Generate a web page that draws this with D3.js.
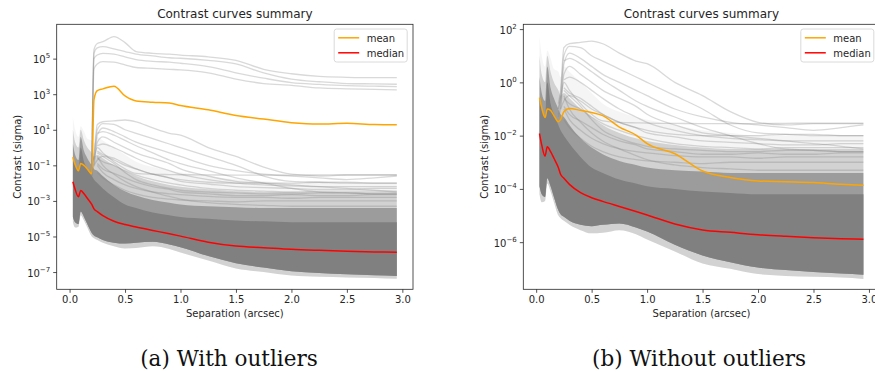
<!DOCTYPE html>
<html>
<head>
<meta charset="utf-8">
<script src="https://cdn.jsdelivr.net/npm/d3@7"></script>
<style>
  body { margin: 0; background: #fff; }
  svg text { font-family: "DejaVu Sans", sans-serif; fill: #262626; }
  svg text.caption { font-family: "DejaVu Serif", serif; fill: #111; }
</style>
</head>
<body>
<svg id="fig" width="875" height="372"></svg>
<script>
// separation grid (arcsec), shared by every curve below
const sep = [0.03, 0.05, 0.08, 0.1, 0.13, 0.16, 0.2, 0.22, 0.25, 0.3, 0.4, 0.5,
             0.6, 0.75, 0.9, 1.0, 1.25, 1.5, 1.75, 2.0, 2.25, 2.5, 2.75, 2.95];

// all values below are log10(contrast)
const medianLog = [-1.92, -2.35, -2.77, -2.42, -2.6, -2.85, -3.2, -3.45, -3.6, -3.83, -4.14, -4.33,
                   -4.47, -4.66, -4.85, -4.98, -5.32, -5.54, -5.63, -5.72, -5.78, -5.83, -5.87, -5.89];
const meanAllLog = [-0.54, -0.95, -1.31, -0.9, -1.0, -1.2, -1.48, 2.7, 3.2, 3.3, 3.45, 2.9,
                    2.62, 2.55, 2.5, 2.36, 2.12, 1.8, 1.6, 1.4, 1.32, 1.36, 1.29, 1.28];
const meanCleanLog = [-0.57, -0.95, -1.32, -1.0, -1.05, -1.25, -1.48, -1.4, -1.1, -0.98, -1.05, -1.13,
                      -1.25, -1.68, -1.98, -2.3, -2.68, -3.33, -3.57, -3.7, -3.73, -3.76, -3.83, -3.86];

// envelopes of the bundle of grey curves (light halo -> dense core)
const haloHigh  = [1.7, 1.0, 0.6, 1.2, 0.9, 0.5, 0.4, 0.2, 0.6, 0.4, 0.0, -0.4,
                   -0.8, -1.1, -1.3, -1.4, -1.6, -1.8, -1.9, -2.0, -2.0, -2.0, -2.0, -2.0];
const midHigh   = [1.0, 0.3, 0.0, 1.0, 0.4, 0.0, -0.3, -0.5, -0.4, -0.6, -1.0, -1.3,
                   -1.6, -1.9, -2.1, -2.2, -2.35, -2.45, -2.5, -2.5, -2.5, -2.5, -2.5, -2.5];
const denseHigh = [0.2, -0.4, -0.7, 0.6, -0.2, -0.6, -1.0, -1.2, -1.3, -1.6, -2.1, -2.45,
                   -2.7, -2.95, -3.1, -3.2, -3.3, -3.35, -3.4, -3.4, -3.4, -3.4, -3.4, -3.4];
const coreHigh  = [-0.6, -1.0, -1.3, 0.0, -0.8, -1.2, -1.6, -1.8, -2.0, -2.3, -2.8, -3.2,
                   -3.4, -3.65, -3.8, -3.9, -4.0, -4.1, -4.15, -4.2, -4.2, -4.2, -4.2, -4.2];
const coreLow   = [-3.9, -4.2, -4.3, -3.6, -3.9, -4.3, -4.8, -4.95, -5.05, -5.2, -5.35, -5.4,
                   -5.35, -5.3, -5.45, -5.6, -6.1, -6.5, -6.75, -6.95, -7.05, -7.12, -7.18, -7.22];
const haloLow   = [-4.2, -4.5, -4.45, -3.8, -4.1, -4.5, -5.0, -5.1, -5.2, -5.35, -5.55, -5.67,
                   -5.65, -5.55, -5.7, -5.9, -6.35, -6.8, -7.0, -7.2, -7.27, -7.3, -7.33, -7.38];

// single grey curves that stand out above the bundle (null = hidden in the bundle)
const _ = null;
const greyCurves = [
  [_, _, _, _, _, _, -0.8, -0.3, 1.3, 1.45, 1.5, 1.55, 1.45, 1.1, 0.8, 0.7, 0.0, -0.5, -1.1, -1.5, -1.6, -1.55, -1.55, -1.55],
  [_, _, _, _, _, _, -1.0, -0.5, 1.0, 1.35, 1.3, 1.0, 0.8, 0.5, 0.2, 0.0, -0.5, -1.0, -1.6, -1.9, -1.95, -2.0, -2.0, -2.0],
  [_, _, _, _, _, _, -1.2, -0.8, 0.7, 1.1, 0.9, 0.6, 0.3, 0.0, -0.3, -0.5, -1.0, -1.3, -1.5, -1.6, -1.7, -1.8, -1.7, -1.6],
  [_, _, _, _, _, _, -1.3, -1.0, 0.3, 0.6, 0.3, 0.0, -0.3, -0.6, -0.9, -1.2, -1.6, -1.9, -2.0, -2.1, -2.2, -2.3, -2.4, -2.5],
  [_, _, _, _, _, _, -1.0, -0.6, 0.0, -0.3, -0.8, -1.2, -1.45, -1.5, -1.52, -1.53, -1.54, -1.55, -1.55, -1.55, -1.54, -1.53, -1.53, -1.53],
  [_, _, _, _, _, _, _, -1.0, -0.7, -0.5, -0.7, -1.0, -1.2, -1.5, -1.7, -1.8, -1.95, -2.0, -2.0, -2.0, -1.95, -1.95, -2.0, -2.0],
  [_, _, _, _, _, _, _, _, -0.6, -0.8, -1.0, -1.3, -1.55, -1.8, -2.0, -2.1, -2.3, -2.4, -2.45, -2.5, -2.45, -2.45, -2.45, -2.45],
  [_, _, _, _, _, _, _, _, -0.9, -1.2, -1.45, -1.7, -1.95, -2.2, -2.35, -2.5, -2.6, -2.7, -2.7, -2.65, -2.7, -2.7, -2.65, -2.65],
  [_, _, _, _, _, _, _, _, -0.2, -0.4, -0.6, -0.9, -1.2, -1.5, -1.7, -1.9, -2.05, -2.2, -2.25, -2.3, -2.35, -2.35, -2.3, -2.3],
  [_, _, _, _, _, _, _, _, -1.0, -1.4, -1.8, -2.1, -2.3, -2.5, -2.6, -2.65, -2.75, -2.8, -2.8, -2.85, -2.8, -2.8, -2.8, -2.8],
  [_, _, _, _, _, _, _, _, -1.4, -1.7, -2.1, -2.4, -2.6, -2.8, -2.9, -2.95, -3.0, -3.05, -3.0, -3.0, -3.0, -3.0, -3.0, -3.0],
  [_, _, _, _, _, _, _, _, 0.1, 0.2, 0.0, -0.3, -0.6, -1.0, -1.3, -1.5, -1.8, -2.0, -2.1, -2.15, -2.2, -2.2, -2.2, -2.2],
  [_, _, _, _, _, _, _, _, 0.8, 0.9, 0.7, 0.4, 0.1, -0.3, -0.7, -0.9, -1.3, -1.7, -2.0, -2.3, -2.5, -2.55, -2.6, -2.6],
  [_, _, _, _, _, _, _, _, -0.5, -1.0, -1.5, -1.9, -2.2, -2.5, -2.75, -2.9, -3.1, -3.2, -3.25, -3.3, -3.3, -3.3, -3.3, -3.3],
  [_, _, _, _, _, _, _, _, -0.3, -0.5, -0.9, -1.4, -1.8, -2.1, -2.3, -2.4, -2.5, -2.55, -2.6, -2.6, -2.55, -2.55, -2.6, -2.6]
];

// the outliers, only in panel (a)
const outlierCurves = [
  [_, _, _, _, _, _, -1.3, 5.5, 5.85, 5.95, 6.24, 5.9, 5.4, 5.3, 5.25, 5.2, 5.1, 4.9, 4.4, 4.15, 4.0, 3.95, 3.93, 3.93],
  [_, _, _, _, _, _, -1.5, 5.3, 5.6, 5.67, 5.55, 5.4, 5.25, 5.15, 5.05, 5.02, 4.9, 4.7, 4.2, 3.85, 3.7, 3.6, 3.58, 3.56],
  [_, _, _, _, _, _, -1.6, 5.0, 5.2, 5.3, 5.25, 5.1, 4.95, 4.85, 4.8, 4.74, 4.55, 4.2, 3.9, 3.65, 3.55, 3.48, 3.45, 3.43],
  [_, _, _, _, _, _, -1.8, 4.4, 4.7, 4.83, 4.8, 4.65, 4.5, 4.45, 4.4, 4.37, 4.2, 3.85, 3.6, 3.5, 3.35, 3.3, 3.27, 3.24]
];

const xTicks = [0, 0.5, 1.0, 1.5, 2.0, 2.5, 3.0];
const yTicksA = [5, 3, 1, -1, -3, -5, -7];
const yTicksB = [2, 0, -2, -4, -6];

const svg = d3.select("#fig");
const W = 356.3, H = 265, TOP = 24.3;

function drawPanel(cfg) {
  const g = svg.append("g").attr("transform", "translate(" + cfg.left + "," + TOP + ")");

  const x = d3.scaleLinear().domain([-0.116, 3.096]).range([0, W]);
  const y = d3.scaleLog().domain([Math.pow(10, cfg.yMin), Math.pow(10, cfg.yMax)]).range([H, 0]);
  const yl = v => y(Math.pow(10, v));

  g.append("clipPath").attr("id", cfg.id + "-clip")
    .append("rect").attr("width", W).attr("height", H);
  const plot = g.append("g").attr("clip-path", "url(#" + cfg.id + "-clip)");

  const band = (lo, hi, op) => {
    const area = d3.area()
      .curve(d3.curveMonotoneX)
      .x((d, i) => x(sep[i]))
      .y0((d, i) => yl(lo[i]))
      .y1((d, i) => yl(hi[i]));
    plot.append("path").datum(sep).attr("d", area)
      .attr("fill", "#808080").attr("fill-opacity", op);
  };
  band(haloLow, haloHigh, 0.08);
  band(haloLow, midHigh, 0.3);
  band(coreLow, denseHigh, 0.65);
  band(coreLow, coreHigh, 1);

  const line = d3.line()
    .defined(d => d != null)
    .curve(d3.curveMonotoneX)
    .x((d, i) => x(sep[i]))
    .y(d => yl(d));

  const greys = cfg.outliers ? greyCurves.concat(outlierCurves) : greyCurves;
  greys.forEach(c => {
    plot.append("path").datum(c).attr("d", line)
      .attr("fill", "none").attr("stroke", "#808080")
      .attr("stroke-opacity", 0.3).attr("stroke-width", 1.3);
  });

  plot.append("path").datum(cfg.mean).attr("d", line)
    .attr("fill", "none").attr("stroke", "orange").attr("stroke-width", 1.5);
  plot.append("path").datum(medianLog).attr("d", line)
    .attr("fill", "none").attr("stroke", "red").attr("stroke-width", 1.5);

  // axes
  const xAxis = g.append("g").attr("transform", "translate(0," + H + ")")
    .call(d3.axisBottom(x).tickValues(xTicks).tickFormat(d3.format(".1f")).tickSize(3.5).tickPadding(3));
  xAxis.select(".domain").remove();
  xAxis.selectAll("text").attr("font-size", 10).attr("fill", "#262626");
  xAxis.selectAll("line").attr("stroke", "#262626").attr("stroke-width", 0.8);

  const yAxis = g.append("g")
    .call(d3.axisLeft(y).tickValues(cfg.yTicks.map(e => Math.pow(10, e))).tickFormat("").tickSize(3.5));
  yAxis.select(".domain").remove();
  yAxis.selectAll("line").attr("stroke", "#262626").attr("stroke-width", 0.8);
  yAxis.selectAll(".tick").each(function (d) {
    const e = Math.round(Math.log10(d));
    const t = d3.select(this).append("text")
      .attr("x", -6.5).attr("y", 4).attr("text-anchor", "end")
      .attr("font-size", 10).attr("fill", "#262626");
    t.append("tspan").text("10");
    t.append("tspan").attr("dy", -5).attr("font-size", 7)
      .text(e < 0 ? "\u2212" + (-e) : String(e));
  });

  g.append("rect").attr("width", W).attr("height", H)
    .attr("fill", "none").attr("stroke", "#262626").attr("stroke-width", 0.8);

  g.append("text").attr("x", W / 2).attr("y", -6.5).attr("text-anchor", "middle")
    .attr("font-size", 12).text("Contrast curves summary");
  g.append("text").attr("x", W / 2).attr("y", H + 28).attr("text-anchor", "middle")
    .attr("font-size", 10).text("Separation (arcsec)");
  g.append("text").attr("transform", "translate(-35.5," + (H / 2) + ") rotate(-90)")
    .attr("text-anchor", "middle").attr("font-size", 10).text("Contrast (sigma)");

  // legend
  const lg = g.append("g").attr("transform", "translate(277.5,4.7)");
  lg.append("rect").attr("width", 73).attr("height", 33).attr("rx", 2.5)
    .attr("fill", "#fff").attr("fill-opacity", 0.8)
    .attr("stroke", "#d0d0d0").attr("stroke-width", 0.8);
  [["mean", "orange"], ["median", "red"]].forEach((it, i) => {
    lg.append("line").attr("x1", 4).attr("x2", 25)
      .attr("y1", 8.8 + i * 15).attr("y2", 8.8 + i * 15)
      .attr("stroke", it[1]).attr("stroke-width", 1.5);
    lg.append("text").attr("x", 32.5).attr("y", 12.5 + i * 15)
      .attr("font-size", 10).text(it[0]);
  });

  svg.append("text").attr("class", "caption")
    .attr("x", cfg.captionX).attr("y", 366).attr("text-anchor", "middle")
    .attr("font-size", 21.5).text(cfg.caption);
}

drawPanel({ id: "a", left: 56.7, yMin: -7.97, yMax: 6.93, yTicks: yTicksA, mean: meanAllLog,
            outliers: true, caption: "(a) With outliers", captionX: 229 });
drawPanel({ id: "b", left: 523.3, yMin: -7.77, yMax: 2.18, yTicks: yTicksB, mean: meanCleanLog,
            outliers: false, caption: "(b) Without outliers", captionX: 699 });
</script>
</body>
</html>
